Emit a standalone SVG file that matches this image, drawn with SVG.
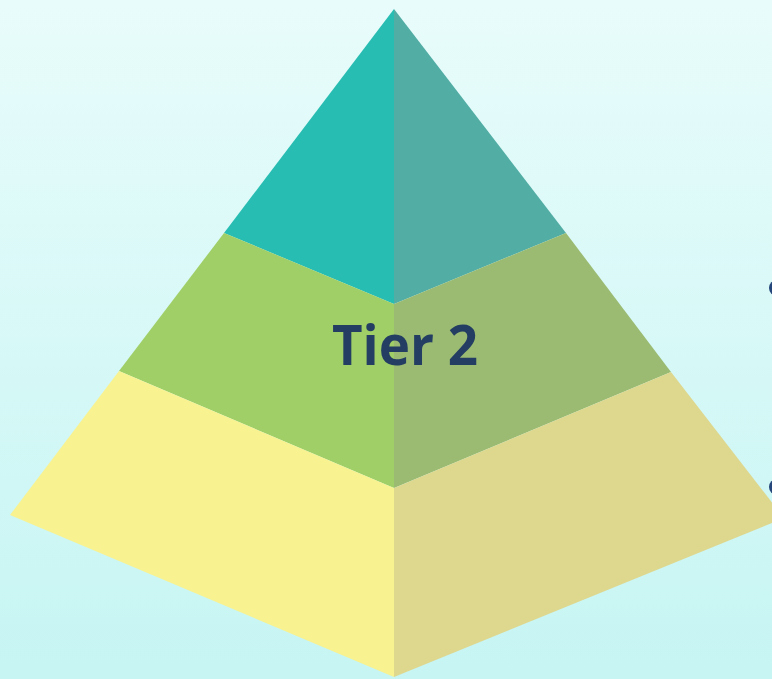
<svg xmlns="http://www.w3.org/2000/svg" width="772" height="679" viewBox="0 0 772 679">
<defs>
<linearGradient id="bg" x1="0" y1="0" x2="0" y2="1">
<stop offset="0" stop-color="#E8FCFB"/>
<stop offset="1" stop-color="#C6F5F3"/>
</linearGradient>
</defs>
<style>
.lbl{font-family:"Open Sans","Liberation Sans",sans-serif;font-weight:bold;font-size:56px;fill:#233E62}
.dot{fill:#24467A}
</style>
<rect width="772" height="679" fill="url(#bg)"/>
<g id="tier1">
<polygon points="394,9 224,233 394,304" fill="#27BDB2"/>
<polygon points="394,9 394,304 566,233" fill="#52ADA5"/>
</g>
<g id="tier2">
<polygon points="224,233 394,304 394,488 119,371" fill="#A0CF67"/>
<polygon points="566,233 394,304 394,488 671,372" fill="#9BBB72"/>
</g>
<g id="tier3">
<polygon points="119,371 394,488 394,677 10,515" fill="#F8F290"/>
<polygon points="671,372 394,488 394,677 784,518" fill="#DED78E"/>
</g>
<g id="label">
<text class="lbl" x="332" y="365" textLength="146" lengthAdjust="spacingAndGlyphs">Tier 2</text>
</g>
<g id="bullets">
<circle class="dot" cx="777" cy="288" r="8"/>
<circle class="dot" cx="777" cy="487" r="8"/>
</g>
</svg>
